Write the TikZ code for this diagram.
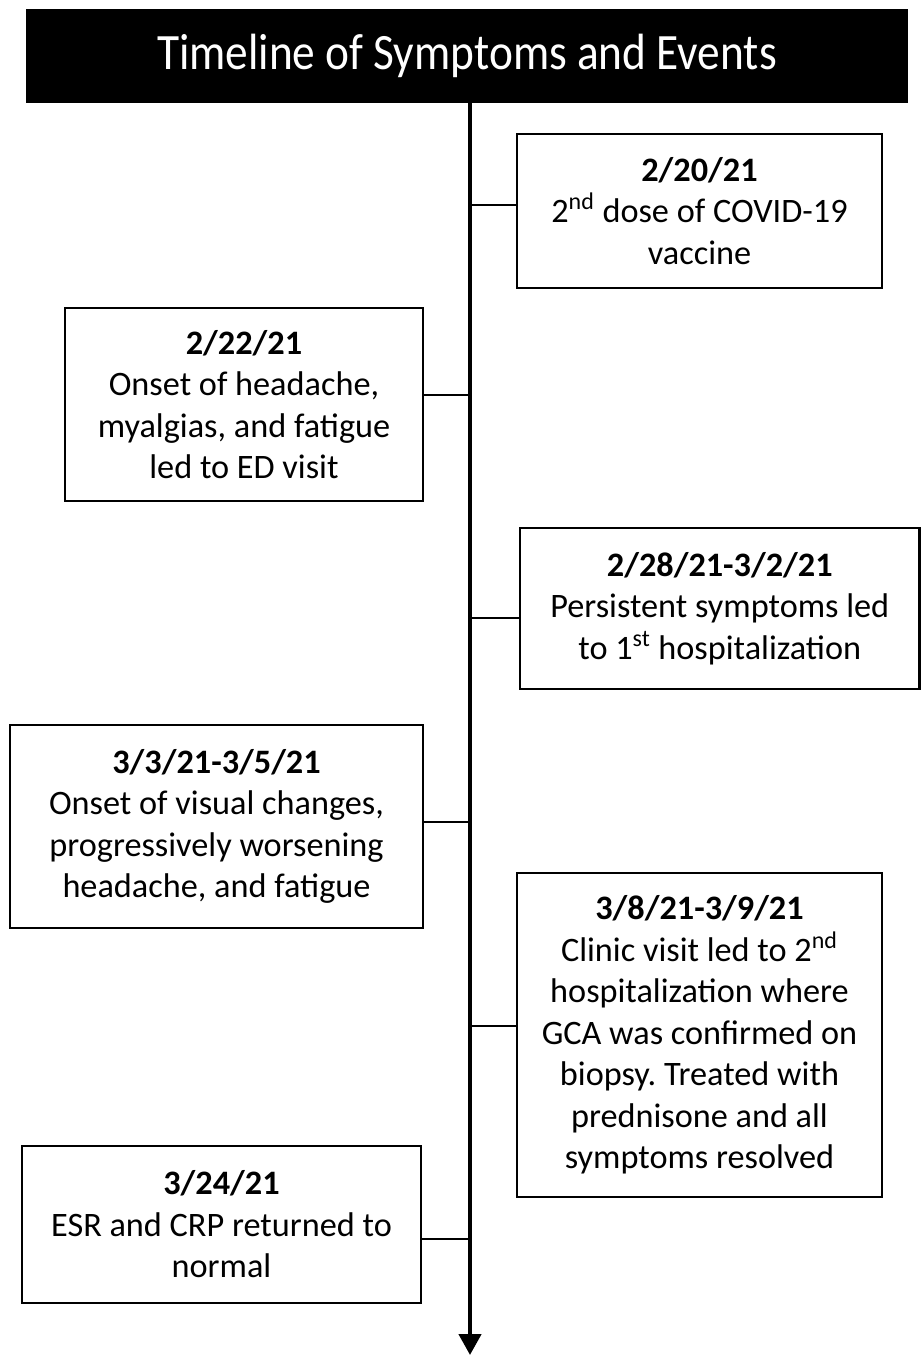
\documentclass[tikz,border=0pt]{standalone}
\usepackage{fontspec}
\setmainfont{Carlito}
\newfontfamily\titlefont[FakeStretch=0.89]{Carlito}
\frenchspacing
\usetikzlibrary{arrows.meta}
\tikzset{
  event/.style={draw, line width=1.35pt, align=center, inner sep=0pt,
    font=\fontsize{19.5}{23.6}\selectfont},
  tick/.style={line width=1.1pt},
}
\newcommand{\evdate}[1]{\textbf{#1}}
\begin{document}
\begin{tikzpicture}[x=0.02cm,y=-0.02cm]
  \useasboundingbox (0,0) rectangle (921,1356);
  \node (title) at (467,56) [fill=black, text=white, inner sep=0pt,
    minimum width=17.64cm, minimum height=1.88cm,
    font=\titlefont\fontsize{29}{35}\selectfont] {Timeline of Symptoms and Events};
  \coordinate (top) at (470,103);
  \coordinate (bot) at (470,1355);
  \draw [line width=2.5pt, -{Triangle[length=0.42cm,width=0.44cm]}] (top) -- (bot);

  \node (e1) at (699.5,211) [event, minimum width=7.30cm, minimum height=3.08cm]
    {\evdate{2/20/21}\\2\textsuperscript{nd} dose of COVID-19\\vaccine};
  \node (e2) at (244,404.5) [event, minimum width=7.16cm, minimum height=3.86cm]
    {\evdate{2/22/21}\\Onset of headache,\\myalgias, and fatigue\\led to ED visit};
  \node (e3) at (719.75,608.5) [event, minimum width=7.99cm, minimum height=3.22cm]
    {\evdate{2/28/21-3/2/21}\\Persistent symptoms led\\to 1\textsuperscript{st} hospitalization};
  \node (e4) at (216.5,826.5) [event, minimum width=8.26cm, minimum height=4.06cm]
    {\evdate{3/3/21-3/5/21}\\Onset of visual changes,\\progressively worsening\\headache, and fatigue};
  \node (e5) at (699.5,1035) [event, minimum width=7.30cm, minimum height=6.48cm]
    {\evdate{3/8/21-3/9/21}\\Clinic visit led to 2\textsuperscript{nd}\\hospitalization where\\GCA was confirmed on\\biopsy. Treated with\\prednisone and all\\symptoms resolved};
  \node (e6) at (221.5,1224.5) [event, minimum width=7.98cm, minimum height=3.14cm]
    {\evdate{3/24/21}\\ESR and CRP returned to\\normal};

  \foreach \i/\y/\side in {1/205/west, 2/395/east, 3/618/west,
                           4/822/east, 5/1026/west, 6/1239/east} {
    \coordinate (t\i) at (470,\y);
    \draw [tick] (t\i) -- (t\i -| e\i.\side);
  }
\end{tikzpicture}
\end{document}
